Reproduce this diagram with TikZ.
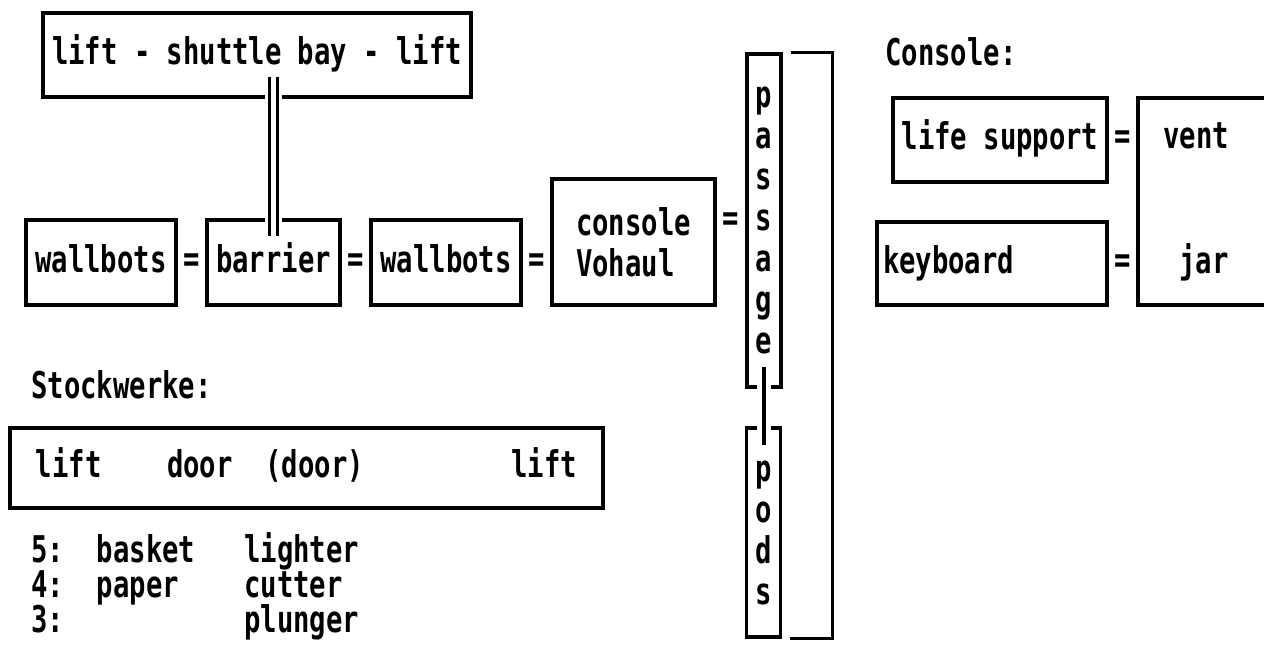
\documentclass[tikz,border=0pt]{standalone}
\usepackage{fontspec}
\newfontfamily\pix[FakeStretch=0.74]{DejaVu Sans Mono Bold}
\usetikzlibrary{positioning}

\tikzset{
  ink/.style={line width=1.6pt},
  txt/.style={inner sep=0pt,font=\pix\fontsize{18.4}{20.5}\selectfont},
  box/.style={txt,draw,ink},
  room/.style={box,text height=14pt,text depth=4.4pt},
  strip/.style={box,align=center,minimum width=17pt},
  eqs/.style={txt},
  dbl/.style={ink,double,double distance=2.6pt,preaction={draw=white,line width=8.5pt}},
  link/.style={ink,preaction={draw=white,line width=7pt}},
}

\begin{document}
\begin{tikzpicture}[x=0.5pt,y=-0.5pt]
  \useasboundingbox (0,0) rectangle (1264,644);
  % shuttle bay and the row of rooms under it
  \node[room,minimum width=214pt,minimum height=42pt] (bay) at (257,55) {lift - shuttle bay - lift};
  \node[room,minimum width=75pt,minimum height=42.5pt] (wb1) at (101,262.5) {wallbots};
  \node[room,minimum width=66.5pt,minimum height=42.5pt] (barrier) at (273.5,262.5) {barrier};
  \node[room,minimum width=75pt,minimum height=42.5pt] (wb2) at (446,262.5) {wallbots};
  \node[box,align=left,minimum width=81.5pt,minimum height=63pt] (console) at (633.5,242) {console\\Vohaul};
  \path (wb1.east) -- node[eqs] (eq1) {=} (barrier.west);
  \path (barrier.east) -- node[eqs] (eq2) {=} (wb2.west);
  \path (wb2.east) -- node[eqs] (eq3) {=} (console.west |- wb2.east);
  \draw[dbl] ([yshift=11pt]bay.south -| barrier.north) -- ([yshift=-9pt]barrier.north);

  % passage and pods
  \node[strip,minimum height=166.5pt] (passage) at (764,220.5) {p\\a\\s\\s\\a\\g\\e};
  \node[strip,minimum height=104.5pt] (pods) at (763.5,532.5) {p\\o\\d\\s};
  \path ([yshift=10pt]console.east) -- node[eqs] (eq4) {=} ([yshift=10pt]console.east -| passage.west);
  \draw[link] ([yshift=11pt]passage.south) -- ([yshift=-9.5pt]pods.north -| passage.south);
  \draw[ink] ([xshift=4pt]passage.north east) -| ([xshift=25pt]pods.south east) -- ([xshift=4pt]pods.south east);

  % console
  \node[txt,anchor=base west] (consolehead) at (885,65) {Console:};
  \node[room,minimum width=107pt,minimum height=42pt] (life) at (1000,140) {life support};
  \node[room,text width=109pt,inner xsep=3pt,align=left,minimum height=41.5pt] (kbd) at (992,263.5) {keyboard};
  \node[box,minimum width=81pt,minimum height=103.5pt] (vj) at (1219,201.5) {};
  \path (life.east) -- node[eqs] (eq5) {=} (life.east -| vj.west);
  \path (kbd.east) -- node[eqs] (eq6) {=} (kbd.east -| vj.west);
  \node[txt,anchor=base west] (vent) at (1163,148) {vent};
  \node[txt,anchor=base west] (jar) at (1179,273) {jar};

  % floors
  \node[txt,anchor=base west] (floorshead) at (31,398) {Stockwerke:};
  \node[room,minimum width=296.5pt,minimum height=40pt] (floors) at (306.5,468)
    {lift\hphantom{xxxx}door\hphantom{xx}(door)\hphantom{xxxxxxxxx}lift};
  \foreach \n/\a/\b [count=\i from 0] in {5/basket/lighter,4/paper/cutter,3//plunger}{
    \pgfmathsetmacro{\y}{562+35*\i}
    \node[txt,anchor=base west] (row\n) at (31,\y) {\n:\hphantom{xx}\a};
    \node[txt,anchor=base west] (obj\n) at (244,\y) {\b};
  }
\end{tikzpicture}
\end{document}
